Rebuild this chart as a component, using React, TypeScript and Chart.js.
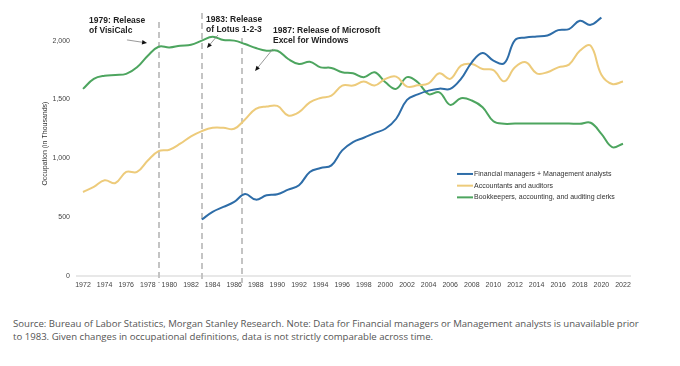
import React, { useEffect, useRef } from "react";
import { Chart, registerables } from "chart.js";

Chart.register(...registerables);

const YEARS = [
  1972, 1973, 1974, 1975, 1976, 1977, 1978, 1979, 1980, 1981, 1982, 1983, 1984,
  1985, 1986, 1987, 1988, 1989, 1990, 1991, 1992, 1993, 1994, 1995, 1996, 1997,
  1998, 1999, 2000, 2001, 2002, 2003, 2004, 2005, 2006, 2007, 2008, 2009, 2010,
  2011, 2012, 2013, 2014, 2015, 2016, 2017, 2018, 2019, 2020, 2021, 2022,
];

const FINANCIAL = [
  null, null, null, null, null, null, null, null, null, null, null, 480, 545,
  587, 629, 697, 649, 686, 694, 734, 771, 884, 917, 940, 1067, 1138,
  1175, 1214, 1251, 1336, 1497, 1543, 1575, 1592, 1590, 1675, 1816, 1895, 1830,
  1807, 2005, 2027, 2036, 2044, 2089, 2098, 2168, 2134, 2196, null, null,
];

const ACCOUNTANTS = [
  714, 757, 813, 790, 884, 884, 982, 1061, 1073, 1124, 1186, 1231, 1259,
  1259, 1251, 1330, 1420, 1440, 1445, 1364, 1392, 1476, 1513, 1533, 1618, 1618,
  1652, 1618, 1675, 1694, 1609, 1620, 1637, 1722, 1675, 1787, 1801, 1759, 1750,
  1654, 1773, 1816, 1722, 1731, 1773, 1796, 1914, 1957, 1711, 1632, 1652,
];

const BOOKKEEPERS = [
  1590, 1675, 1702, 1708, 1717, 1773, 1872, 1948, 1942, 1957, 1965, 2000, 2033,
  2005, 2000, 1971, 1937, 1914, 1914, 1844, 1801, 1821, 1773, 1768, 1731, 1722,
  1688, 1731, 1646, 1590, 1690, 1646, 1545, 1561, 1454, 1510, 1491, 1434, 1315,
  1293, 1295, 1295, 1295, 1295, 1295, 1295, 1293, 1302, 1208, 1095, 1124,
];

const SERIES_NAMES = [
  "Financial managers + Management analysts",
  "Accountants and auditors",
  "Bookkeepers, accounting, and auditing clerks",
];
const SERIES_COLORS = ["#2E6DA8", "#EDCB7B", "#4DA55F"];

const X_TICKS = [
  1972, 1974, 1976, 1978, 1980, 1982, 1984, 1986, 1988, 1990, 1992, 1994, 1996,
  1998, 2000, 2002, 2004, 2006, 2008, 2010, 2012, 2014, 2016, 2018, 2020, 2022,
];
const Y_TICKS = [0, 500, 1000, 1500, 2000];
const Y_TITLE = "Occupation (in Thousands)";

// event markers: dashed line at year, from value `top` down to the axis
const EVENT_YEARS = [1979, 1983, 1986.75];
const EVENT_TOPS = [2159, 2235, 2023];
const EVENT_TEXTS = [
  ["1979: Release", "of VisiCalc"],
  ["1983: Release", "of Lotus 1-2-3"],
  ["1987: Release of Microsoft", "Excel for Windows"],
];
// text anchor (year, value of first line) and arrow (from year,value -> to year,value)
const EVENT_TEXT_AT = [
  [1972.56, 2170],
  [1983.39, 2176],
  [1989.59, 2085],
];
const EVENT_ARROWS = [
  [1976.07, 2006, 1977.93, 1980],
  [1984.5, 2048, 1983.48, 1938],
  [1989.59, 1930, 1987.93, 1742],
];
const LEGEND_AT = [2006.63, 867];

const FOOTER_LINES = [
  "Source: Bureau of Labor Statistics, Morgan Stanley Research. Note: Data for Financial managers or Management analysts is unavailable prior",
  "to 1983. Given changes in occupational definitions, data is not strictly comparable across time.",
];

const FONT = '"Liberation Sans", Arial, sans-serif';

const overlayPlugin = {
  id: "overlay",
  beforeDatasetsDraw(chart: any) {
    const { ctx, scales, chartArea } = chart;
    const x = scales.x;
    const y = scales.y;
    ctx.save();
    ctx.strokeStyle = "#c4c4c4";
    ctx.lineWidth = 2;
    ctx.setLineDash([6, 4]);
    EVENT_YEARS.forEach((yr, i) => {
      const px = Math.round(x.getPixelForValue(yr));
      ctx.beginPath();
      ctx.moveTo(px, y.getPixelForValue(EVENT_TOPS[i]));
      ctx.lineTo(px, chartArea.bottom + 7);
      ctx.stroke();
    });
    ctx.restore();
  },
  afterDatasetsDraw(chart: any) {
    const { ctx, scales } = chart;
    const x = scales.x;
    const y = scales.y;
    ctx.save();
    // annotation text
    ctx.font = `bold 8.5px ${FONT}`;
    ctx.fillStyle = "#222";
    ctx.textAlign = "left";
    ctx.textBaseline = "middle";
    EVENT_TEXTS.forEach((lines, i) => {
      const tx = x.getPixelForValue(EVENT_TEXT_AT[i][0]);
      const ty = y.getPixelForValue(EVENT_TEXT_AT[i][1]);
      lines.forEach((t, j) => ctx.fillText(t, tx, ty + j * 10));
    });
    // arrows
    EVENT_ARROWS.forEach((a) => {
      const x1 = x.getPixelForValue(a[0]);
      const y1 = y.getPixelForValue(a[1]);
      const x2 = x.getPixelForValue(a[2]);
      const y2 = y.getPixelForValue(a[3]);
      const ang = Math.atan2(y2 - y1, x2 - x1);
      const hl = 5;
      const hw = 2.2;
      const bx = x2 - Math.cos(ang) * hl;
      const by = y2 - Math.sin(ang) * hl;
      ctx.strokeStyle = "#808080";
      ctx.lineWidth = 0.8;
      ctx.beginPath();
      ctx.moveTo(x1, y1);
      ctx.lineTo(bx, by);
      ctx.stroke();
      ctx.fillStyle = "#111";
      ctx.beginPath();
      ctx.moveTo(x2, y2);
      ctx.lineTo(bx - Math.sin(ang) * hw, by + Math.cos(ang) * hw);
      ctx.lineTo(bx + Math.sin(ang) * hw, by - Math.cos(ang) * hw);
      ctx.closePath();
      ctx.fill();
    });
    // legend
    const lx = x.getPixelForValue(LEGEND_AT[0]);
    const ly = y.getPixelForValue(LEGEND_AT[1]);
    ctx.font = `7px ${FONT}`;
    SERIES_NAMES.forEach((name, i) => {
      const yy = ly + i * 11.7;
      ctx.strokeStyle = SERIES_COLORS[i];
      ctx.lineWidth = 2;
      ctx.beginPath();
      ctx.moveTo(lx, yy);
      ctx.lineTo(lx + 16, yy);
      ctx.stroke();
      ctx.fillStyle = "#333";
      ctx.fillText(name, lx + 17, yy);
    });
    ctx.restore();
  },
};

export default function App() {
  const canvasRef = useRef<HTMLCanvasElement | null>(null);

  useEffect(() => {
    const canvas = canvasRef.current;
    if (!canvas) return;
    const series = [FINANCIAL, ACCOUNTANTS, BOOKKEEPERS];
    const chart = new Chart(canvas, {
      type: "line",
      data: {
        datasets: series.map((vals, i) => ({
          label: SERIES_NAMES[i],
          data: YEARS.map((yr, j) => ({ x: yr, y: vals[j] })),
          borderColor: SERIES_COLORS[i],
          backgroundColor: SERIES_COLORS[i],
          borderWidth: 2,
          pointRadius: 0,
          tension: 0.4,
          fill: false,
          spanGaps: false,
        })),
      },
      options: {
        animation: false,
        responsive: false,
        devicePixelRatio: 1,
        layout: { padding: { left: 37, right: 50, top: 11, bottom: 0 } },
        plugins: {
          legend: { display: false },
          tooltip: { enabled: false },
        },
        scales: {
          x: {
            type: "linear",
            min: 1971.444,
            max: 2022.648,
            grid: { display: false, drawTicks: false },
            border: { display: true, color: "#e8e8e8", width: 2 },
            ticks: {
              autoSkip: false,
              maxRotation: 0,
              padding: 5,
              color: "#444",
              font: { size: 7, family: FONT },
              callback: (v: any) => String(v),
            },
            afterBuildTicks: (s: any) => {
              s.ticks = X_TICKS.map((v) => ({ value: v }));
            },
            afterFit: (s: any) => {
              s.height = 24;
            },
          },
          y: {
            min: 0,
            max: 2250,
            grid: { display: false, drawTicks: false },
            border: { display: false },
            ticks: {
              padding: 7,
              color: "#444",
              font: { size: 7, family: FONT },
              callback: (v: any) => Number(v).toLocaleString("en-US"),
            },
            afterBuildTicks: (s: any) => {
              s.ticks = Y_TICKS.map((v) => ({ value: v }));
            },
            title: {
              display: true,
              text: Y_TITLE,
              color: "#333",
              font: { size: 7, family: FONT },
              padding: { top: 4, bottom: 4 },
            },
            afterFit: (s: any) => {
              s.width = 40;
            },
          },
        },
      },
      plugins: [overlayPlugin],
    } as any);
    return () => chart.destroy();
  }, []);

  return (
    <div
      style={{
        position: "absolute",
        left: 0,
        top: 0,
        width: 680,
        height: 366,
        background: "#fff",
        overflow: "hidden",
      }}
    >
      <canvas ref={canvasRef} width={680} height={300} style={{ display: "block" }} />
      <div
        style={{
          position: "absolute",
          left: 13,
          top: 317,
          width: 667,
          fontFamily: '"Open Sans", "Noto Sans", sans-serif',
          fontSize: 9.6,
          lineHeight: "13px",
          color: "#555",
          whiteSpace: "nowrap",
        }}
      >
        {FOOTER_LINES.map((l, i) => (
          <div key={i}>{l}</div>
        ))}
      </div>
    </div>
  );
}
